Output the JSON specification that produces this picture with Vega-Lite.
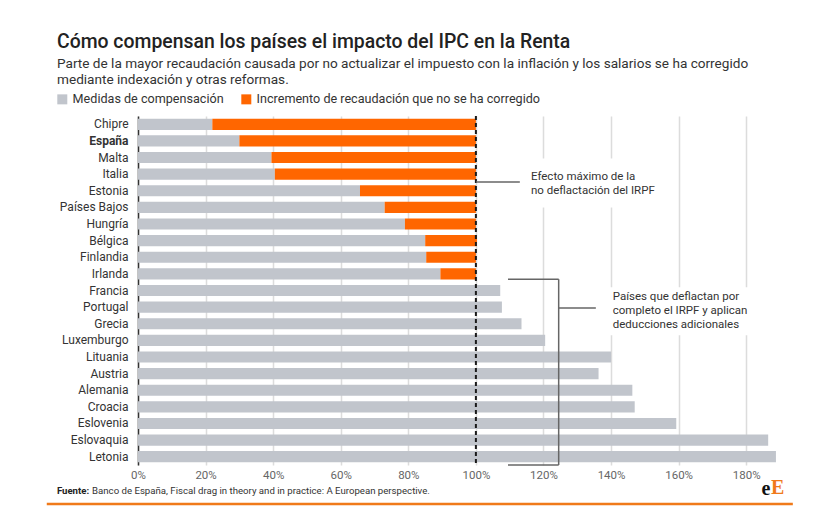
{
  "$schema": "https://vega.github.io/schema/vega-lite/v6.json",
  "width": 642,
  "height": 349,
  "autosize": "none",
  "padding": {"left": 138, "top": 116, "right": 38, "bottom": 64},
  "background": "white",
  "config": {
    "font": "Roboto",
    "view": {"stroke": null}
  },
  "title": {
    "text": "Cómo compensan los países el impacto del IPC en la Renta",
    "subtitle": [
      "Parte de la mayor recaudación causada por no actualizar el impuesto con la inflación y los salarios se ha corregido",
      "mediante indexación y otras reformas."
    ],
    "anchor": "start",
    "frame": "group",
    "dx": -81,
    "offset": 5,
    "font": "Roboto",
    "fontSize": 19.4,
    "fontWeight": 500,
    "color": "#222222",
    "subtitleFont": "Roboto",
    "subtitleFontSize": 13.6,
    "subtitleColor": "#333333",
    "subtitleLineHeight": 16.5,
    "subtitlePadding": 5
  },
  "datasets": {
    "paises": [
      {"pais": "Chipre", "serie": "Medidas de compensación", "orden": 1, "valor": 22},
      {"pais": "Chipre", "serie": "Incremento de recaudación que no se ha corregido", "orden": 2, "valor": 78},
      {"pais": "España", "serie": "Medidas de compensación", "orden": 1, "valor": 30},
      {"pais": "España", "serie": "Incremento de recaudación que no se ha corregido", "orden": 2, "valor": 70},
      {"pais": "Malta", "serie": "Medidas de compensación", "orden": 1, "valor": 39.5},
      {"pais": "Malta", "serie": "Incremento de recaudación que no se ha corregido", "orden": 2, "valor": 60.5},
      {"pais": "Italia", "serie": "Medidas de compensación", "orden": 1, "valor": 40.5},
      {"pais": "Italia", "serie": "Incremento de recaudación que no se ha corregido", "orden": 2, "valor": 59.5},
      {"pais": "Estonia", "serie": "Medidas de compensación", "orden": 1, "valor": 65.7},
      {"pais": "Estonia", "serie": "Incremento de recaudación que no se ha corregido", "orden": 2, "valor": 34.3},
      {"pais": "Países Bajos", "serie": "Medidas de compensación", "orden": 1, "valor": 73},
      {"pais": "Países Bajos", "serie": "Incremento de recaudación que no se ha corregido", "orden": 2, "valor": 27},
      {"pais": "Hungría", "serie": "Medidas de compensación", "orden": 1, "valor": 79},
      {"pais": "Hungría", "serie": "Incremento de recaudación que no se ha corregido", "orden": 2, "valor": 21},
      {"pais": "Bélgica", "serie": "Medidas de compensación", "orden": 1, "valor": 85},
      {"pais": "Bélgica", "serie": "Incremento de recaudación que no se ha corregido", "orden": 2, "valor": 15.3},
      {"pais": "Finlandia", "serie": "Medidas de compensación", "orden": 1, "valor": 85.3},
      {"pais": "Finlandia", "serie": "Incremento de recaudación que no se ha corregido", "orden": 2, "valor": 14.7},
      {"pais": "Irlanda", "serie": "Medidas de compensación", "orden": 1, "valor": 89.5},
      {"pais": "Irlanda", "serie": "Incremento de recaudación que no se ha corregido", "orden": 2, "valor": 10.5},
      {"pais": "Francia", "serie": "Medidas de compensación", "orden": 1, "valor": 107.2},
      {"pais": "Portugal", "serie": "Medidas de compensación", "orden": 1, "valor": 107.7},
      {"pais": "Grecia", "serie": "Medidas de compensación", "orden": 1, "valor": 113.5},
      {"pais": "Luxemburgo", "serie": "Medidas de compensación", "orden": 1, "valor": 120.5},
      {"pais": "Lituania", "serie": "Medidas de compensación", "orden": 1, "valor": 140},
      {"pais": "Austria", "serie": "Medidas de compensación", "orden": 1, "valor": 136.3},
      {"pais": "Alemania", "serie": "Medidas de compensación", "orden": 1, "valor": 146.3},
      {"pais": "Croacia", "serie": "Medidas de compensación", "orden": 1, "valor": 147},
      {"pais": "Eslovenia", "serie": "Medidas de compensación", "orden": 1, "valor": 159.3},
      {"pais": "Eslovaquia", "serie": "Medidas de compensación", "orden": 1, "valor": 186.5},
      {"pais": "Letonia", "serie": "Medidas de compensación", "orden": 1, "valor": 188.8}
    ],
    "huecos": [
      {"x": 115, "x2": 155, "fila": 2.55, "fila2": 5.5},
      {"x": 138, "x2": 184, "fila": 10.3, "fila2": 13.2}
    ],
    "guias": [
      {"x": 100, "x2": 113, "fila": 3.97, "fila2": 3.97},
      {"x": 109.5, "x2": 124.5, "fila": 9.82, "fila2": 9.82},
      {"x": 124.5, "x2": 124.5, "fila": 9.82, "fila2": 21},
      {"x": 109.5, "x2": 124.5, "fila": 21, "fila2": 21},
      {"x": 124.5, "x2": 135.5, "fila": 11.56, "fila2": 11.56}
    ],
    "notas": [
      {"x": 116.3, "fila": 3.66, "texto": "Efecto máximo de la"},
      {"x": 116.3, "fila": 4.5, "texto": "no deflactación del IRPF"},
      {"x": 140.5, "fila": 10.9, "texto": "Países que deflactan por"},
      {"x": 140.5, "fila": 11.74, "texto": "completo el IRPF y aplican"},
      {"x": 140.5, "fila": 12.58, "texto": "deducciones adicionales"}
    ]
  },
  "data": {"name": "paises"},
  "layer": [
    {
      "mark": {"type": "bar"},
      "encoding": {
        "y": {
          "field": "pais",
          "type": "nominal",
          "sort": null,
          "scale": {"paddingInner": 0.33, "paddingOuter": 0.165},
          "axis": {
            "title": null,
            "ticks": false,
            "grid": false,
            "domainColor": "#333333",
            "domainWidth": 1.5,
            "labelColor": "#333333",
            "labelFont": "Roboto",
            "labelFontSize": 12,
            "labelPadding": 10,
            "labelFontWeight": {"condition": {"test": "datum.value === 'España'", "value": "bold"}, "value": "normal"}
          }
        },
        "x": {
          "field": "valor",
          "type": "quantitative",
          "stack": "zero",
          "scale": {"domain": [0, 190], "nice": false},
          "axis": {
            "title": null,
            "values": [0, 20, 40, 60, 80, 100, 120, 140, 160, 180],
            "labelExpr": "datum.value + '%'",
            "labelFlush": false,
            "ticks": false,
            "domain": false,
            "grid": true,
            "gridColor": "#dcdcdc",
            "gridWidth": 1.5,
            "labelColor": "#666666",
            "labelFont": "Roboto",
            "labelFontSize": 11.5,
            "labelPadding": 4
          }
        },
        "color": {
          "field": "serie",
          "type": "nominal",
          "scale": {
            "domain": ["Medidas de compensación", "Incremento de recaudación que no se ha corregido"],
            "range": ["#c1c5cc", "#ff6600"]
          },
          "legend": {
            "title": null,
            "orient": "none",
            "legendX": -82,
            "legendY": -23,
            "direction": "horizontal",
            "symbolType": "square",
            "symbolSize": 100,
            "symbolStrokeWidth": 0,
            "labelFont": "Roboto",
            "labelFontSize": 12.6,
            "labelColor": "#333333",
            "labelLimit": 400,
            "columnPadding": 16
          }
        },
        "order": {"field": "orden", "type": "quantitative"}
      }
    },
    {
      "data": {"name": "huecos"},
      "mark": {"type": "rect", "fill": "white"},
      "encoding": {
        "x": {"field": "x", "type": "quantitative"},
        "x2": {"field": "x2"},
        "y": {"field": "fila", "type": "quantitative", "scale": {"domain": [0, 21], "reverse": true, "nice": false}, "axis": null},
        "y2": {"field": "fila2"}
      }
    },
    {
      "data": {"values": [{"x": 100}]},
      "mark": {"type": "rule", "color": "#1a1a1a", "strokeWidth": 2, "strokeDash": [4, 3]},
      "encoding": {
        "x": {"field": "x", "type": "quantitative"}
      }
    },
    {
      "data": {"name": "guias"},
      "mark": {"type": "rule", "color": "#666666", "strokeWidth": 1.5},
      "encoding": {
        "x": {"field": "x", "type": "quantitative"},
        "x2": {"field": "x2"},
        "y": {"field": "fila", "type": "quantitative", "scale": {"domain": [0, 21], "reverse": true, "nice": false}, "axis": null},
        "y2": {"field": "fila2"}
      }
    },
    {
      "data": {"name": "notas"},
      "mark": {"type": "text", "align": "left", "baseline": "middle", "font": "Roboto", "fontSize": 11.5, "color": "#333333"},
      "encoding": {
        "x": {"field": "x", "type": "quantitative"},
        "y": {"field": "fila", "type": "quantitative", "scale": {"domain": [0, 21], "reverse": true, "nice": false}, "axis": null},
        "text": {"field": "texto"}
      }
    },
    {
      "data": {"values": [{"x": -24, "fila": 22.55, "texto": "Fuente:"}]},
      "mark": {"type": "text", "align": "left", "baseline": "middle", "font": "Roboto", "fontSize": 9.6, "fontWeight": "bold", "color": "#222222"},
      "encoding": {
        "x": {"field": "x", "type": "quantitative"},
        "y": {"field": "fila", "type": "quantitative", "scale": {"domain": [0, 21], "reverse": true, "nice": false}, "axis": null},
        "text": {"field": "texto"}
      }
    },
    {
      "data": {"values": [{"x": -13.6, "fila": 22.55, "texto": "Banco de España, Fiscal drag in theory and in practice: A European perspective."}]},
      "mark": {"type": "text", "align": "left", "baseline": "middle", "font": "Roboto", "fontSize": 9.65, "color": "#333333"},
      "encoding": {
        "x": {"field": "x", "type": "quantitative"},
        "y": {"field": "fila", "type": "quantitative", "scale": {"domain": [0, 21], "reverse": true, "nice": false}, "axis": null},
        "text": {"field": "texto"}
      }
    },
    {
      "data": {"values": [{"x": -27, "x2": 193.8, "fila": 23.34}]},
      "mark": {"type": "rule", "color": "#f07a1a", "strokeWidth": 2.5},
      "encoding": {
        "x": {"field": "x", "type": "quantitative"},
        "x2": {"field": "x2"},
        "y": {"field": "fila", "type": "quantitative", "scale": {"domain": [0, 21], "reverse": true, "nice": false}, "axis": null}
      }
    },
    {
      "data": {"values": [{"x": 184.5, "fila": 22.45, "texto": "e"}]},
      "mark": {"type": "text", "align": "left", "baseline": "middle", "font": "Liberation Serif", "fontSize": 20, "fontWeight": "bold", "color": "#111111"},
      "encoding": {
        "x": {"field": "x", "type": "quantitative"},
        "y": {"field": "fila", "type": "quantitative", "scale": {"domain": [0, 21], "reverse": true, "nice": false}, "axis": null},
        "text": {"field": "texto"}
      }
    },
    {
      "data": {"values": [{"x": 187.3, "fila": 22.4, "texto": "E"}]},
      "mark": {"type": "text", "align": "left", "baseline": "middle", "font": "Liberation Serif", "fontSize": 20, "fontWeight": "bold", "color": "#f07a1a"},
      "encoding": {
        "x": {"field": "x", "type": "quantitative"},
        "y": {"field": "fila", "type": "quantitative", "scale": {"domain": [0, 21], "reverse": true, "nice": false}, "axis": null},
        "text": {"field": "texto"}
      }
    }
  ],
  "resolve": {"scale": {"y": "independent"}}
}
